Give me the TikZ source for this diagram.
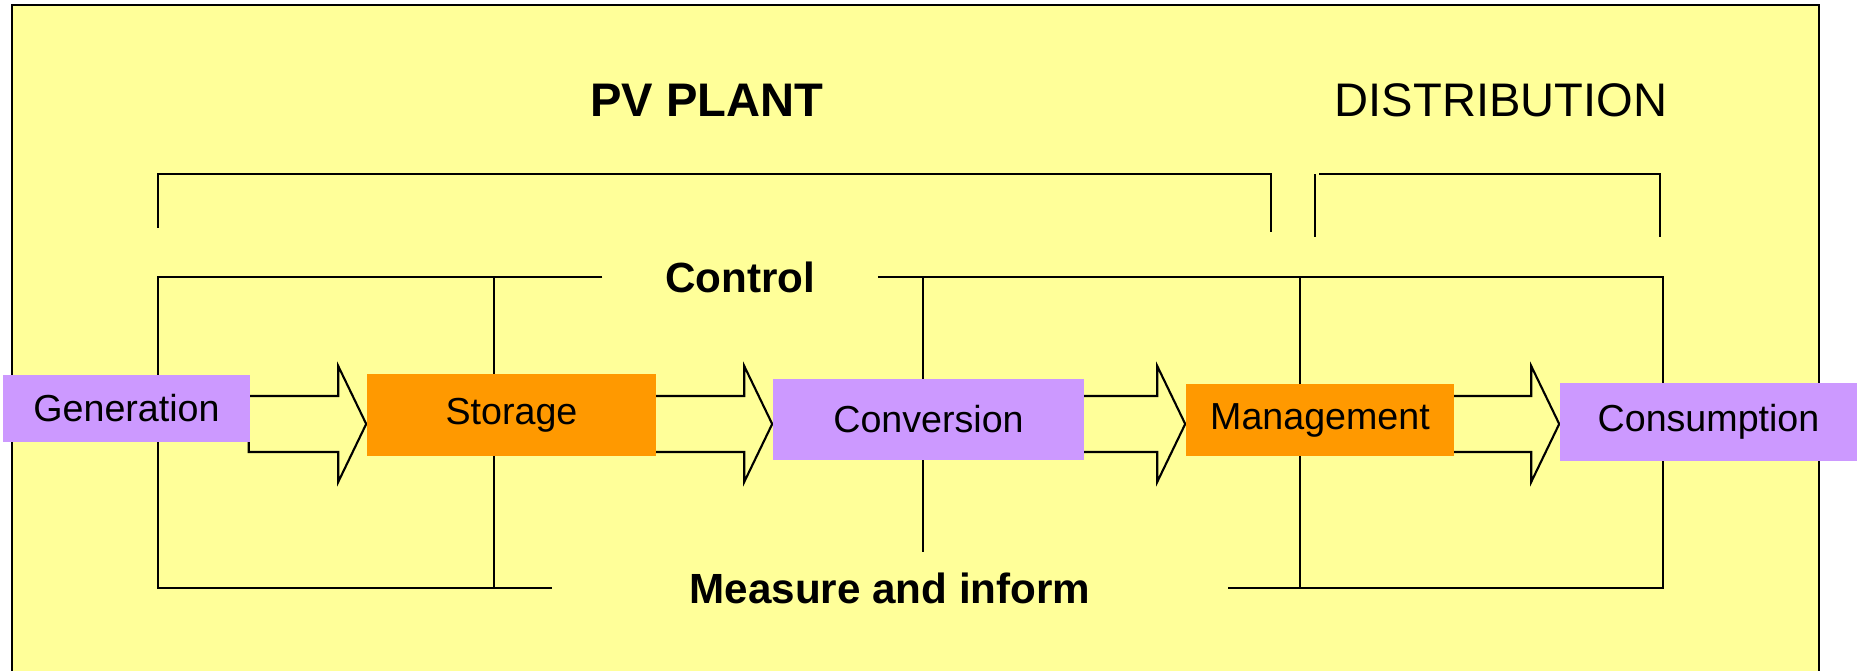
\documentclass[tikz,border=0pt]{standalone}
\usepackage{fontspec}
\setmainfont{Liberation Sans}
\usetikzlibrary{calc,backgrounds}
\definecolor{panelyellow}{HTML}{FFFF99}
\definecolor{lilac}{HTML}{CC99FF}
\definecolor{amber}{HTML}{FF9900}

\begin{document}
\begin{tikzpicture}[
    x=0.01cm, y=-0.01cm,
    wire/.style={line width=0.6pt},
    stage/.style={inner sep=0pt,font=\fontsize{10.7}{12}\selectfont},
    pvstage/.style={stage,fill=lilac},
    gridstage/.style={stage,fill=amber},
    heading/.style={font=\fontsize{13.4}{16}\selectfont},
    busname/.style={font=\bfseries\fontsize{12}{14}\selectfont,inner ysep=0pt},
    flowarr/.style={line width=0.6pt,line join=miter},
  ]
  \useasboundingbox (0,0) rectangle (1857,671);

  % titles
  \node[heading] (pv) at (707,100) {\bfseries PV PLANT};
  \node[heading] (dist) at (1501,100) {DISTRIBUTION};

  % bus labels, the gap in the bus lines is the inner xsep
  \node[busname,inner xsep=0.62cm] (ctrl) at (740,277) {Control};
  \node[busname,inner xsep=1.365cm] (meas) at (890,588) {Measure and inform};

  % chain of stages
  \node[pvstage,minimum width=2.47cm,minimum height=0.67cm] (gen) at (126.5,408.5) {Generation};
  \node[gridstage,minimum width=2.89cm,minimum height=0.82cm] (stor) at (511.5,415) {Storage};
  \node[pvstage,minimum width=3.11cm,minimum height=0.81cm] (conv) at (928.5,419.5) {Conversion};
  \node[gridstage,minimum width=2.68cm,minimum height=0.72cm] (mgmt) at (1320,420) {Management};
  \node[pvstage,minimum width=2.97cm,minimum height=0.78cm] (cons) at (1708.5,422) {Consumption};

  \begin{pgfonlayer}{background}
    \fill[panelyellow] (12,5) rectangle (1819,680);
    \draw[wire] (12,680) -- (12,5) -- (1819,5) -- (1819,680);

    % brackets
    \draw[wire] (158,228) -- (158,174) -- (1271,174) -- (1271,232);
    \draw[wire] (1315,237) -- (1315,174);
    \draw[wire] (1319,174) -- (1660,174) -- (1660,237);

    % control and measure buses
    \draw[wire] (ctrl.west) -- (158,277) -- (158,588) -- (meas.west);
    \draw[wire] (ctrl.east) -- (1663,277) -- (1663,588) -- (meas.east);
    \foreach \x in {494,1300}
      \draw[wire] (\x,277) -- (\x,588);
    \draw[wire] (923,277) -- (923,552);

    % block arrows
    \foreach \a/\b in {gen/stor,stor/conv,conv/mgmt,mgmt/cons} {
      \coordinate (tip) at (\b.west |- 0,424);
      \draw[flowarr] (tip) -- ($(tip)+(-28,-58)$) -- ($(tip)+(-28,-28)$)
        -- ($(\a.east |- tip)+(-2,-28)$) -- ($(\a.east |- tip)+(-2,28)$)
        -- ($(tip)+(-28,28)$) -- ($(tip)+(-28,58)$) -- cycle;
    }
  \end{pgfonlayer}
\end{tikzpicture}
\end{document}
